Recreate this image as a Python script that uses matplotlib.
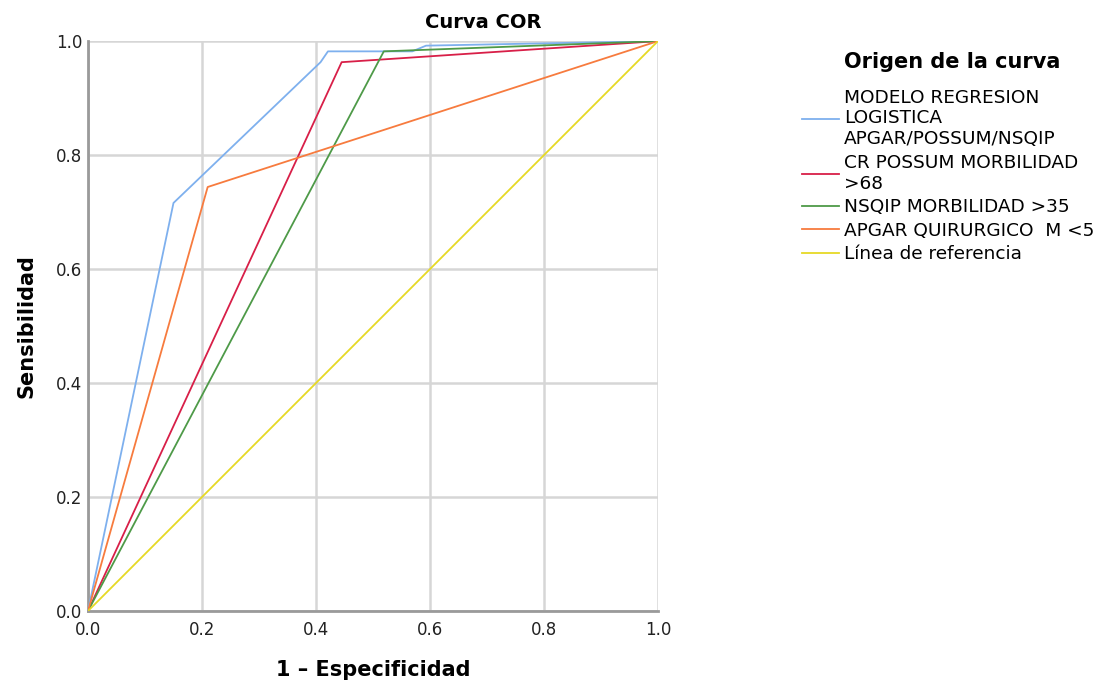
import matplotlib
matplotlib.use("Agg")
import matplotlib.pyplot as plt

# Data
fpr_modelo = [0.0, 0.150, 0.408, 0.421, 0.519, 0.569, 0.593, 1.0]
tpr_modelo = [0.0, 0.716, 0.963, 0.982, 0.982, 0.982, 0.992, 1.0]
fpr_possum = [0.0, 0.445, 1.0]
tpr_possum = [0.0, 0.963, 1.0]
fpr_nsqip = [0.0, 0.519, 1.0]
tpr_nsqip = [0.0, 0.982, 1.0]
fpr_apgar = [0.0, 0.210, 1.0]
tpr_apgar = [0.0, 0.744, 1.0]
fpr_ref = [0.0, 1.0]
tpr_ref = [0.0, 1.0]

labels = [
    "MODELO REGRESION\nLOGISTICA\nAPGAR/POSSUM/NSQIP",
    "CR POSSUM MORBILIDAD\n>68",
    "NSQIP MORBILIDAD >35",
    "APGAR QUIRURGICO  M <5",
    "Línea de referencia",
]
colors = ["#7eb0ee", "#d81f48", "#4e9a48", "#f77b3e", "#e6d925"]
ticks = [0.0, 0.2, 0.4, 0.6, 0.8, 1.0]
tick_labels = ["0.0", "0.2", "0.4", "0.6", "0.8", "1.0"]

plt.rcParams['font.family'] = ['DejaVu Sans']

fig = plt.figure(figsize=(11.04, 6.85), dpi=100)
ax = fig.add_axes([0.0797, 0.108, 0.5163, 0.832])

series = [(fpr_modelo, tpr_modelo), (fpr_possum, tpr_possum), (fpr_nsqip, tpr_nsqip),
          (fpr_apgar, tpr_apgar), (fpr_ref, tpr_ref)]
handles = []
for (x, y), c, lab in zip(series, colors, labels):
    h, = ax.plot(x, y, color=c, lw=1.3, label=lab, zorder=3)
    handles.append(h)

ax.set_xlim(0, 1)
ax.set_ylim(0, 1)
ax.set_xticks(ticks)
ax.set_xticklabels(tick_labels)
ax.set_yticks(ticks)
ax.set_yticklabels(tick_labels)
ax.tick_params(length=0, labelsize=12, colors="#222222")
ax.tick_params(axis="x", pad=7)
ax.tick_params(axis="y", pad=4)
ax.grid(True, color="#d6d6d6", lw=1.8, zorder=0)
ax.set_axisbelow(True)
for s in ["top", "right"]:
    ax.spines[s].set_visible(False)
for s in ["left", "bottom"]:
    ax.spines[s].set_color("#9a9a9a")
    ax.spines[s].set_linewidth(2)

fig.text(483 / 1104, 1 - 22 / 685, "Curva COR", fontsize=14, fontweight="bold",
         ha="center", va="center")
ax.set_xlabel("1 – Especificidad", fontsize=15, fontweight="bold", labelpad=15)
ax.set_ylabel("Sensibilidad", fontsize=15, fontweight="bold", labelpad=14)

fig.text(952 / 1104, 1 - 62 / 685, "Origen de la curva", fontsize=15,
         fontweight="bold", ha="center", va="center")
leg = fig.legend(handles=handles, labels=labels, loc="upper left",
                 bbox_to_anchor=(0.711, 1 - 72 / 685), frameon=False,
                 fontsize=13.3, handlelength=2.05, handletextpad=0.25,
                 labelspacing=0.3)

fig.savefig("out.png", dpi=100)
